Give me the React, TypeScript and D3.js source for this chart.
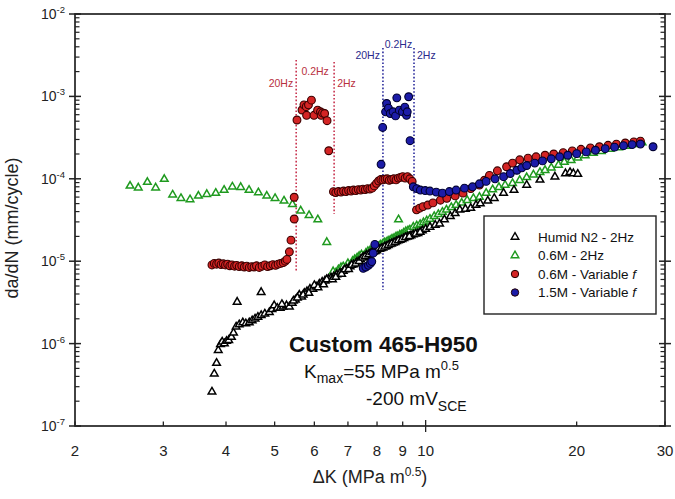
import React from 'react'
import * as d3 from 'd3'

// series values [dK, da/dN]
const humidN2: [number, number][] = [
  [3.75, 2.6e-7], [3.79, 4.3e-7], [3.83, 5.8e-7], [3.86, 8.3e-7], [3.9, 9.8e-7], [3.93, 1.05e-6], [3.97, 1.0e-6],
  [4.01, 1.07e-6], [4.05, 1.1e-6], [4.1, 1.2e-6], [4.14, 1.35e-6], [4.19, 1.6e-6], [4.21, 3.2e-6], [4.25, 1.7e-6],
  [4.32, 1.8e-6], [4.38, 1.75e-6], [4.45, 1.8e-6], [4.51, 1.9e-6], [4.57, 2.0e-6], [4.63, 2.1e-6], [4.7, 4.2e-6],
  [4.7, 2.2e-6], [4.78, 2.3e-6], [4.88, 2.4e-6], [4.94, 2.6e-6], [4.99, 2.9e-6], [5.06, 2.7e-6], [5.13, 2.7e-6],
  [5.2, 2.8e-6], [5.28, 2.9e-6], [5.35, 2.8e-6], [5.42, 3.1e-6], [5.5, 3.4e-6], [5.6, 3.9e-6], [5.66, 3.7e-6],
  [5.73, 4.1e-6], [5.8, 4.3e-6], [5.88, 4.6e-6], [5.96, 4.6e-6], [6.05, 4.9e-6], [6.14, 5.3e-6], [6.22, 5.6e-6],
  [6.3, 5.8e-6], [6.4, 6.1e-6], [6.48, 6.3e-6], [6.56, 6.5e-6], [6.65, 6.9e-6], [6.75, 7.2e-6], [6.85, 7.6e-6],
  [6.96, 8.1e-6], [7.07, 8.6e-6], [7.18, 9.1e-6], [7.3, 9.8e-6], [7.42, 1.05e-5], [7.53, 1.12e-5], [7.63, 1.19e-5],
  [7.75, 1.25e-5], [7.87, 1.3e-5], [7.99, 1.35e-5], [8.1, 1.4e-5], [8.22, 1.45e-5], [8.35, 1.52e-5], [8.48, 1.6e-5],
  [8.62, 1.67e-5], [8.75, 1.74e-5], [8.89, 1.8e-5], [9.05, 1.9e-5], [9.2, 1.98e-5], [9.35, 2.05e-5], [9.45, 2.1e-5],
  [9.65, 2.18e-5], [9.85, 2.35e-5], [10.0, 2.45e-5], [10.2, 2.6e-5], [10.45, 2.75e-5], [10.66, 2.85e-5], [10.9, 3.2e-5],
  [11.2, 3.5e-5], [11.45, 3.8e-5], [11.7, 4.2e-5], [12.0, 4.3e-5], [12.3, 4.4e-5], [12.6, 4.8e-5], [12.85, 5.0e-5],
  [13.3, 5.4e-5], [13.7, 5.8e-5], [14.3, 6.7e-5], [15.0, 7.3e-5], [15.9, 8.4e-5], [16.9, 9.7e-5], [18.1, 1.06e-4],
  [19.0, 1.16e-4], [19.4, 1.2e-4], [19.7, 1.16e-4], [20.1, 1.14e-4],
  // second pass, scatter around the band
  [5.17, 3.0e-6], [5.45, 3.3e-6], [5.55, 3.6e-6], [5.7, 3.9e-6], [5.85, 4.1e-6], [6.0, 5.1e-6], [6.1, 4.8e-6],
  [6.26, 5.2e-6], [6.35, 6.0e-6], [6.52, 6.0e-6], [6.62, 6.4e-6], [6.8, 7.0e-6], [6.9, 7.9e-6], [7.02, 8.0e-6],
  [7.12, 9.0e-6], [7.25, 9.3e-6], [7.37, 1.0e-5], [7.48, 1.1e-5], [7.58, 1.15e-5], [7.7, 1.2e-5], [7.82, 1.28e-5],
  [7.93, 1.32e-5], [8.05, 1.4e-5], [8.16, 1.43e-5], [8.29, 1.5e-5], [8.42, 1.56e-5], [8.55, 1.63e-5], [8.69, 1.7e-5],
  [8.82, 1.78e-5], [8.97, 1.85e-5], [9.12, 1.95e-5], [9.28, 2.0e-5], [9.55, 2.15e-5], [9.75, 2.25e-5],
]

const m06_2Hz: [number, number][] = [
  [2.575, 8.2e-5], [2.674, 7.8e-5], [2.788, 9.1e-5], [2.896, 7.8e-5], [3.013, 9.9e-5], [3.131, 6.4e-5], [3.253, 5.8e-5],
  [3.391, 5.6e-5], [3.524, 6.2e-5], [3.662, 6.5e-5], [3.816, 6.7e-5], [3.965, 7.3e-5], [4.118, 8.0e-5], [4.279, 7.9e-5],
  [4.446, 7.3e-5], [4.64, 6.8e-5], [4.823, 6.2e-5], [5.01, 5.8e-5], [5.22, 5.4e-5], [5.425, 4.9e-5], [5.636, 4.1e-5],
  [5.856, 3.6e-5], [6.096, 3.2e-5], [6.352, 1.7e-5],
  [6.54, 7.5e-6], [6.62, 7.2e-6], [6.7, 7.9e-6], [6.78, 8.4e-6], [6.85, 8.6e-6], [6.92, 8.1e-6], [7.0, 9.4e-6],
  [7.08, 9.0e-6], [7.15, 1.0e-5], [7.22, 1.05e-5], [7.3, 1.1e-5], [7.37, 1.15e-5], [7.45, 1.2e-5], [7.52, 1.15e-5],
  [7.6, 1.25e-5], [7.67, 1.32e-5], [7.75, 1.35e-5], [7.82, 1.3e-5], [7.9, 1.45e-5], [7.97, 1.42e-5], [8.05, 1.5e-5],
  [8.12, 1.58e-5], [8.2, 1.6e-5], [8.27, 1.68e-5], [8.35, 1.7e-5], [8.42, 1.76e-5], [8.5, 1.8e-5], [8.57, 1.86e-5],
  [8.65, 1.9e-5], [8.83, 3.2e-5], [8.73, 1.98e-5], [8.8, 2.0e-5], [8.88, 2.08e-5], [8.95, 2.1e-5], [9.04, 2.2e-5],
  [9.13, 2.3e-5], [9.22, 2.35e-5], [9.3, 2.4e-5], [9.45, 2.6e-5], [9.6, 2.7e-5], [9.75, 2.8e-5], [9.9, 2.95e-5],
  [10.05, 3.1e-5], [10.2, 3.25e-5], [10.4, 3.5e-5], [10.6, 3.7e-5], [10.8, 3.95e-5], [11.0, 4.2e-5], [11.25, 4.5e-5],
  [11.5, 4.8e-5], [11.8, 5.1e-5], [12.1, 5.5e-5], [12.45, 5.8e-5], [12.8, 6.0e-5], [13.2, 6.7e-5], [13.6, 7.4e-5],
  [14.0, 7.9e-5], [14.4, 8.4e-5], [14.9, 8.8e-5], [15.4, 9.6e-5], [15.9, 1.04e-4], [16.4, 1.12e-4], [16.9, 1.2e-4],
  [17.3, 1.27e-4], [17.8, 1.36e-4], [18.4, 1.47e-4], [18.9, 1.6e-4], [19.5, 1.68e-4], [20.1, 1.8e-4], [20.8, 1.92e-4],
  [21.6, 2.05e-4], [22.4, 2.15e-4], [23.3, 2.3e-4], [24.2, 2.4e-4], [25.1, 2.5e-4], [26.0, 2.62e-4], [27.0, 2.75e-4],
]

const m06Var: [number, number][] = [
  [3.75, 9.0e-6], [3.79, 9.4e-6], [3.83, 9.2e-6], [3.87, 9.5e-6], [3.91, 9.1e-6], [3.95, 9.3e-6], [3.99, 9.0e-6],
  [4.03, 9.2e-6], [4.07, 8.8e-6], [4.11, 9.0e-6], [4.16, 8.7e-6], [4.2, 8.9e-6], [4.25, 8.6e-6], [4.3, 8.8e-6],
  [4.35, 8.5e-6], [4.4, 8.7e-6], [4.45, 8.4e-6], [4.5, 8.6e-6], [4.55, 8.5e-6], [4.6, 8.8e-6], [4.66, 8.4e-6],
  [4.72, 8.7e-6], [4.78, 9.0e-6], [4.84, 8.6e-6], [4.9, 8.8e-6], [4.96, 9.1e-6], [5.02, 8.9e-6], [5.08, 9.2e-6],
  [5.14, 9.4e-6], [5.2, 9.6e-6], [5.25, 1.0e-5], [5.29, 1.05e-5], [5.35, 1.3e-5], [5.39, 1.8e-5], [5.47, 3.25e-5],
  [5.47, 5.97e-5],
  [5.54, 5.17e-4], [5.67, 6.84e-4], [5.72, 7.9e-4], [5.78, 7.5e-4], [5.79, 5.9e-4], [5.84, 7.9e-4], [5.92, 9.0e-4],
  [5.99, 5.9e-4], [6.09, 6.8e-4], [6.17, 6.5e-4], [6.19, 5.9e-4], [6.23, 6.3e-4], [6.29, 6.2e-4], [6.36, 5.07e-4],
  [6.41, 2.19e-4],
  [6.55, 6.97e-5], [6.62, 6.8e-5], [6.7, 7.0e-5], [6.78, 6.9e-5], [6.86, 7.1e-5], [6.94, 7.0e-5], [7.02, 7.2e-5],
  [7.1, 7.1e-5], [7.18, 7.3e-5], [7.26, 7.2e-5], [7.34, 7.4e-5], [7.42, 7.3e-5], [7.5, 7.5e-5], [7.58, 7.4e-5],
  [7.66, 7.6e-5], [7.74, 7.5e-5], [7.82, 7.7e-5], [7.9, 8.2e-5], [7.98, 8.8e-5], [8.06, 9.4e-5], [8.14, 9.8e-5],
  [8.22, 9.7e-5], [8.3, 9.9e-5], [8.38, 1.0e-4], [8.46, 9.6e-5], [8.55, 9.8e-5], [8.64, 1.0e-4], [8.73, 9.7e-5],
  [8.82, 1.02e-4], [8.91, 1.04e-4], [9.0, 1.06e-4], [9.1, 1.02e-4], [9.2, 1.06e-4], [9.3, 1.0e-4], [9.4, 9.3e-5],
  [9.59, 4.2e-5], [9.73, 4.4e-5], [9.88, 4.6e-5], [10.1, 4.8e-5], [10.34, 5.1e-5], [10.7, 5.5e-5], [11.02, 5.8e-5],
  [11.45, 6.2e-5], [11.87, 6.7e-5], [12.3, 7.6e-5], [12.8, 8.4e-5], [13.1, 9.6e-5], [13.4, 1.1e-4], [13.9, 1.25e-4],
  [14.5, 1.4e-4], [14.9, 1.55e-4], [15.4, 1.7e-4], [16.0, 1.78e-4], [16.6, 1.85e-4], [17.3, 1.93e-4], [18.0, 2.0e-4],
  [18.8, 2.08e-4], [19.6, 2.18e-4], [20.4, 2.28e-4], [21.3, 2.37e-4], [22.2, 2.45e-4], [23.1, 2.55e-4], [24.0, 2.63e-4],
  [25.0, 2.72e-4], [26.0, 2.8e-4], [26.8, 2.86e-4],
]

const m15Var: [number, number][] = [
  [7.51, 8.2e-6], [7.6, 8.5e-6], [7.69, 8.9e-6], [7.76, 9.4e-6], [7.81, 9.9e-6], [7.86, 1.25e-5], [7.92, 1.6e-5],
  [8.15, 1.5e-4], [8.21, 4.2e-4],
  [8.32, 6.5e-4], [8.36, 8.2e-4], [8.43, 7.2e-4], [8.5, 6.2e-4], [8.61, 6.5e-4], [8.71, 5.8e-4], [8.76, 9.6e-4],
  [8.86, 6.8e-4], [8.99, 6.5e-4], [9.09, 7.4e-4], [9.16, 5.9e-4], [9.19, 6.5e-4], [9.25, 9.9e-4], [9.31, 2.9e-4],
  [9.45, 8.0e-5], [9.6, 7.6e-5], [9.76, 7.3e-5], [9.98, 7.2e-5], [10.2, 7.1e-5], [10.5, 6.9e-5], [10.8, 6.7e-5],
  [11.15, 7.0e-5], [11.5, 7.3e-5], [11.95, 7.7e-5], [12.4, 8.0e-5], [12.8, 8.7e-5], [13.2, 9.3e-5], [13.75, 1.0e-4],
  [14.3, 1.06e-4], [14.75, 1.16e-4], [15.2, 1.27e-4], [15.55, 1.36e-4], [15.9, 1.45e-4], [16.5, 1.55e-4],
  [17.1, 1.65e-4], [17.8, 1.75e-4], [18.5, 1.85e-4], [19.2, 1.93e-4], [20.0, 2.02e-4], [20.9, 2.12e-4], [21.8, 2.22e-4],
  [22.8, 2.32e-4], [23.8, 2.42e-4], [24.8, 2.52e-4], [25.8, 2.6e-4], [26.8, 2.64e-4], [28.4, 2.45e-4],
]

const xTicks = [2, 3, 4, 5, 6, 7, 8, 9, 10, 20, 30]
const yDecades = [-7, -6, -5, -4, -3, -2]
const redLines = [5.52, 6.57]
const blueLines = [8.22, 9.48]

const legendItems = [
  { label: 'Humid N2 - 2Hz', kind: 'tri', color: '#000' },
  { label: '0.6M - 2Hz', kind: 'tri', color: '#1f9a1f' },
  { label: '0.6M - Variable ', italic: 'f', kind: 'dot', color: '#d42424' },
  { label: '1.5M - Variable ', italic: 'f', kind: 'dot', color: '#1c1ca8' },
]

const W = 675, H = 499
const L = 75, R = 665, T = 14, B = 426
const font = 'Liberation Sans, Arial, sans-serif'

export default function App() {
  const x = d3.scaleLog().domain([2, 30]).range([L, R])
  const y = d3.scaleLog().domain([1e-7, 1e-2]).range([B, T])
  const tri = d3.symbol(d3.symbolTriangle, 25)()

  const minorY: number[] = []
  yDecades.slice(0, -1).forEach(e => {
    for (let m = 2; m <= 9; m++) minorY.push(m * Math.pow(10, e))
  })

  const triMarks = (data: [number, number][], color: string) =>
    data.map((d, i) => (
      <path key={i} d={tri!} transform={`translate(${x(d[0])},${y(d[1])})`}
        fill="white" stroke={color} strokeWidth={1.5} />
    ))
  const dotMarks = (data: [number, number][], color: string, edge: string) =>
    data.map((d, i) => (
      <circle key={i} cx={x(d[0])} cy={y(d[1])} r={3.9} fill={color} stroke={edge} strokeWidth={1.1} />
    ))

  return (
    <svg width={W} height={H} style={{ position: 'absolute', left: 0, top: 0, background: '#fff' }}
      fontFamily={font}>
      <rect x={0} y={0} width={W} height={H} fill="#fff" />

      {/* frame */}
      <rect x={L} y={T} width={R - L} height={B - T} fill="none" stroke="#222" strokeWidth={1.7} />

      {/* y ticks, left and right */}
      {yDecades.map(e => (
        <g key={e}>
          <line x1={L - 6} x2={L + 6} y1={y(Math.pow(10, e))} y2={y(Math.pow(10, e))} stroke="#222" strokeWidth={1.5} />
          <line x1={R - 6} x2={R + 6} y1={y(Math.pow(10, e))} y2={y(Math.pow(10, e))} stroke="#222" strokeWidth={1.5} />
          <text x={L - 10} y={y(Math.pow(10, e)) + 5} textAnchor="end" fontSize={14} fill="#222">
            10<tspan dy={-6} fontSize={9.5}>{e}</tspan>
          </text>
        </g>
      ))}
      {minorY.map((v, i) => (
        <g key={i}>
          <line x1={L} x2={L + 4.5} y1={y(v)} y2={y(v)} stroke="#222" strokeWidth={1.2} />
          <line x1={R - 4.5} x2={R} y1={y(v)} y2={y(v)} stroke="#222" strokeWidth={1.2} />
        </g>
      ))}

      {/* x ticks */}
      {xTicks.map(t => (
        <g key={t}>
          <line x1={x(t)} x2={x(t)} y1={t === 10 ? B + 6 : B} y2={B - (t === 10 ? 6 : 4.5)} stroke="#222" strokeWidth={1.3} />
          <text x={x(t)} y={B + 30} textAnchor="middle" fontSize={15} fill="#222">{t}</text>
        </g>
      ))}

      {/* axis titles */}
      <text x={370} y={483} textAnchor="middle" fontSize={18} fill="#222">
        ΔK (MPa m<tspan dy={-7} fontSize={12}>0.5</tspan><tspan dy={7}>)</tspan>
      </text>
      <text transform={`translate(18,228) rotate(-90)`} textAnchor="middle" fontSize={18} fill="#222">
        da/dN (mm/cycle)
      </text>

      {/* frequency change lines */}
      {redLines.map((v, i) => (
        <line key={i} x1={x(v)} x2={x(v)} y1={i === 0 ? 60 : 62} y2={i === 0 ? 272 : 214}
          stroke="#c8324e" strokeWidth={1.6} strokeDasharray="1.6,2" />
      ))}
      {blueLines.map((v, i) => (
        <line key={i} x1={x(v)} x2={x(v)} y1={48} y2={i === 0 ? 290 : 212}
          stroke="#2a2a9c" strokeWidth={1.6} strokeDasharray="1.6,2" />
      ))}
      <g fontSize={10.5}>
        <text x={x(redLines[0]) - 3} y={87} textAnchor="end" fill="#b8303e">20Hz</text>
        <text x={(x(redLines[0]) + x(redLines[1])) / 2} y={75} textAnchor="middle" fill="#b8303e">0.2Hz</text>
        <text x={x(redLines[1]) + 3} y={87} fill="#b8303e">2Hz</text>
        <text x={x(blueLines[0]) - 3} y={59} textAnchor="end" fill="#2a2a8c">20Hz</text>
        <text x={(x(blueLines[0]) + x(blueLines[1])) / 2} y={48} textAnchor="middle" fill="#2a2a8c">0.2Hz</text>
        <text x={x(blueLines[1]) + 3} y={59} fill="#2a2a8c">2Hz</text>
      </g>

      {/* data */}
      <g>{triMarks(m06_2Hz, '#1f9a1f')}</g>
      <g>{triMarks(humidN2, '#000')}</g>
      <g>{dotMarks(m06Var, '#d42424', '#3a0000')}</g>
      <g>{dotMarks(m15Var, '#1c1ca8', '#000030')}</g>

      {/* annotation */}
      <text x={289} y={352} fontSize={22.5} fontWeight="bold" fill="#111">Custom 465-H950</text>
      <text x={304} y={378} fontSize={19} fill="#111">
        K<tspan dy={5} fontSize={14}>max</tspan><tspan dy={-5}>=55 MPa m</tspan><tspan dy={-8} fontSize={13}>0.5</tspan>
      </text>
      <text x={366} y={405} fontSize={19} fill="#111">
        -200 mV<tspan dy={6} fontSize={14}>SCE</tspan>
      </text>

      {/* legend */}
      <rect x={484} y={216} width={172} height={98} fill="#fff" stroke="#222" strokeWidth={1.4} />
      {legendItems.map((it, i) => {
        const cy = 237 + i * 18.5
        return (
          <g key={i}>
            {it.kind === 'tri'
              ? <path d={tri!} transform={`translate(515,${cy})`} fill="#fff" stroke={it.color} strokeWidth={1.4} />
              : <circle cx={515} cy={cy} r={3.7} fill={it.color} stroke="#200" strokeWidth={1} />}
            <text x={538} y={cy + 4.5} fontSize={13.5} fill="#111">
              {it.label}{it.italic ? <tspan fontStyle="italic">{it.italic}</tspan> : null}
            </text>
          </g>
        )
      })}
    </svg>
  )
}
